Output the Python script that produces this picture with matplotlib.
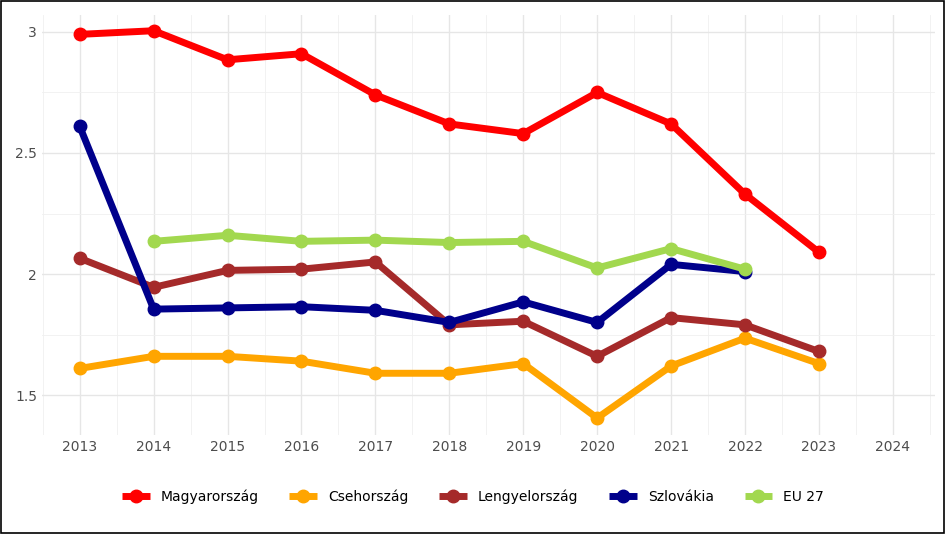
import matplotlib; matplotlib.use("Agg")
import matplotlib.pyplot as plt
from matplotlib.ticker import MultipleLocator
from matplotlib.patches import Rectangle

years = list(range(2013, 2024))
hu = [2.99, 3.005, 2.885, 2.91, 2.74, 2.62, 2.58, 2.75, 2.62, 2.33, 2.09]
cz = [1.61, 1.66, 1.66, 1.64, 1.59, 1.59, 1.63, 1.405, 1.62, 1.735, 1.63]
pl = [2.065, 1.945, 2.015, 2.02, 2.05, 1.79, 1.805, 1.66, 1.82, 1.79, 1.68]
sk = [2.61, 1.855, 1.86, 1.865, 1.85, 1.80, 1.885, 1.80, 2.04, 2.01]
eu_years = list(range(2014, 2023))
eu = [2.135, 2.16, 2.135, 2.14, 2.13, 2.135, 2.025, 2.105, 2.02]

series = [("Magyarország", years, hu, "#ff0000"),
          ("Csehország", years, cz, "#ffa500"),
          ("Lengyelország", years, pl, "#a52a2a"),
          ("Szlovákia", years[:10], sk, "#00008b"),
          ("EU 27", eu_years, eu, "#a2d84f")]

fig = plt.figure(figsize=(9.46, 5.34), dpi=100)
ax = fig.add_axes([42/946, 1-435/534, (935-42)/946, (435-15)/534])
for name, x, y, c in series:
    ax.plot(x, y, color=c, lw=5, marker="o", ms=9, label=name, solid_capstyle="butt")
ax.set_xlim(2012.49, 2024.57)
ax.set_ylim(1.335, 3.07)
ax.set_xticks(range(2013, 2025))
ax.xaxis.set_minor_locator(MultipleLocator(0.5))
ax.set_yticks([1.5, 2, 2.5, 3]); ax.set_yticklabels(["1.5", "2", "2.5", "3"])
ax.yaxis.set_minor_locator(MultipleLocator(0.25))
ax.grid(True, which="major", color="#e6e6e6", lw=1)
ax.grid(True, which="minor", color="#f0f0f0", lw=0.6)
ax.tick_params(length=0, labelsize=10, colors="#4d4d4d", which="both")
for s in ax.spines.values(): s.set_visible(False)
fig.legend(loc="center", bbox_to_anchor=(0.5, 1-497/534), ncol=5, frameon=False,
           fontsize=10, handlelength=2, columnspacing=2.2)
fig.patches.append(Rectangle((0.001, 0.002), 0.997, 0.996, transform=fig.transFigure,
                             fill=False, ec="black", lw=1.2))
fig.savefig("out.png", dpi=100)
